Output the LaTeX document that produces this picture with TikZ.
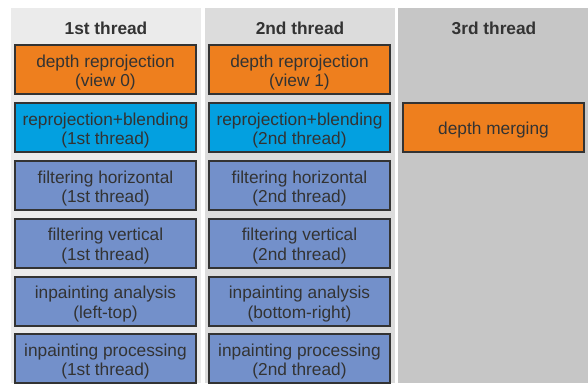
\documentclass[tikz,border=0pt]{standalone}
\usepackage{fontspec}
\setmainfont{Liberation Sans}
\definecolor{bgA}{HTML}{EBEBEB}
\definecolor{bgB}{HTML}{DCDCDC}
\definecolor{bgC}{HTML}{C6C6C6}
\definecolor{orng}{HTML}{EE7F1E}
\definecolor{cyanb}{HTML}{03A0E0}
\definecolor{peri}{HTML}{7390CA}
\definecolor{txt}{HTML}{333333}
\begin{document}
\begin{tikzpicture}[x=1pt,y=-1pt,
  task/.style={draw=txt, line width=2pt, minimum width=181pt, minimum height=49pt,
    inner sep=0pt},
  tasktext/.style={align=center, text=txt, inner sep=0pt, yshift=-3pt,
    font=\fontsize{17.3}{19.5}\selectfont},
  hdr/.style={text=txt, font=\fontsize{17.3}{19.5}\selectfont\bfseries}]
\useasboundingbox (0,0) rectangle (588,383);
\fill[white] (0,0) rectangle (588,383);
\fill[bgA] (11,8) rectangle (201,383);
\fill[bgB] (205,8) rectangle (395,383);
\fill[bgC] (398,8) rectangle (588,383);
\node[hdr] (h1) at (106,28) {1st thread};
\node[hdr] (h2) at (300,28) {2nd thread};
\node[hdr] (h3) at (494,28) {3rd thread};
% column 1
\node[task, fill=orng, label={[tasktext]center:{depth reprojection\\(view 0)}}] (a1) at (105.5,69.5) {};
\node[task, fill=cyanb, label={[tasktext]center:{reprojection+blending\\(1st thread)}}] (a2) at (105.5,127.5) {};
\node[task, fill=peri, label={[tasktext]center:{filtering horizontal\\(1st thread)}}] (a3) at (105.5,185.5) {};
\node[task, fill=peri, label={[tasktext]center:{filtering vertical\\(1st thread)}}] (a4) at (105.5,243) {};
\node[task, fill=peri, label={[tasktext]center:{inpainting analysis\\(left-top)}}] (a5) at (105.5,301) {};
\node[task, fill=peri, label={[tasktext]center:{inpainting processing\\(1st thread)}}] (a6) at (105.5,358.5) {};
% column 2
\node[task, fill=orng, label={[tasktext]center:{depth reprojection\\(view 1)}}] (b1) at (299.5,69.5) {};
\node[task, fill=cyanb, label={[tasktext]center:{reprojection+blending\\(2nd thread)}}] (b2) at (299.5,127.5) {};
\node[task, fill=peri, label={[tasktext]center:{filtering horizontal\\(2nd thread)}}] (b3) at (299.5,185.5) {};
\node[task, fill=peri, label={[tasktext]center:{filtering vertical\\(2nd thread)}}] (b4) at (299.5,243) {};
\node[task, fill=peri, label={[tasktext]center:{inpainting analysis\\(bottom-right)}}] (b5) at (299.5,301) {};
\node[task, fill=peri, label={[tasktext]center:{inpainting processing\\(2nd thread)}}] (b6) at (299.5,358.5) {};
% column 3
\node[task, fill=orng, label={[tasktext]center:{depth merging}}] (c1) at (493.5,127.5) {};
\end{tikzpicture}
\end{document}
